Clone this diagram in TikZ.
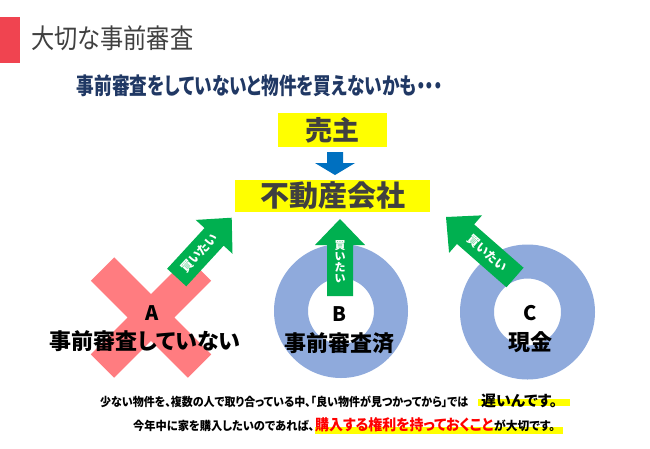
\documentclass[tikz,border=0pt]{standalone}
\usepackage{fontspec}
\newfontfamily\jp{Noto Sans CJK JP}[RawFeature=+palt]
\usetikzlibrary{calc}
\definecolor{barred}{RGB}{240,68,80}
\definecolor{titlegray}{RGB}{64,64,64}
\definecolor{navy}{RGB}{32,56,100}
\definecolor{hiyellow}{RGB}{255,255,0}
\definecolor{msblue}{RGB}{0,112,192}
\definecolor{msgreen}{RGB}{0,176,80}
\definecolor{xred}{RGB}{255,124,128}
\definecolor{ringblue}{RGB}{143,170,220}
\definecolor{hired}{RGB}{255,0,0}
\newcommand\fs[1]{\fontsize{#1}{#1}\selectfont}
\newcommand\fitto[2]{\resizebox{#1}{\height}{#2}}
% block arrow from tail #1 to tip #2
\newcommand\garrow[2]{%
  \coordinate (gb) at ($(#2)!26pt!(#1)$);
  \fill[garrowfill] ($(#1)!13pt!90:(#2)$) -- ($(gb)!13pt!-90:(#1)$) -- ($(gb)!25pt!-90:(#1)$) -- (#2)
     -- ($(gb)!25pt!90:(#1)$) -- ($(gb)!13pt!90:(#1)$) -- ($(#1)!13pt!-90:(#2)$) -- cycle;}
\begin{document}
\begin{tikzpicture}[x=1pt,y=-1pt,
  txt/.style={inner sep=0pt, font=\jp},
  ybox/.style={fill=hiyellow, inner sep=0pt, text=titlegray},
  lbl/.style={inner sep=0pt, text=black},
  arrowtext/.style={inner sep=0pt, font=\jp\bfseries\fs{12}, text=white},
  garrowfill/.style={fill=msgreen},
  ring/.style={fill=ringblue, even odd rule}
]
\useasboundingbox (0,0) rectangle (650,448);
\fill[white] (0,0) rectangle (650,448);
% header
\fill[barred] (0,17) rectangle (20,63);
\node[txt, anchor=west, text=titlegray, font=\jp\fs{27}] (title) at (31,38) {\fitto{162pt}{大切な事前審査}};
\node[txt, text=navy, font=\jp\bfseries\fs{23}] (sub) at (260,86) {\fitto{366pt}{事前審査をしていないと物件を買えないかも・・・}};
% seller and agent
\node[ybox, minimum width=109pt, minimum height=34pt, font=\jp\bfseries\fs{27}] (seller) at (332.5,130) {売主};
\node[ybox, minimum width=195pt, minimum height=32pt, font=\jp\bfseries\fs{29}] (agent) at (332.5,196) {不動産会社};
\fill[msblue] (327,152) -- (343,152) -- (343,163) -- (355,163) -- (335,175) -- (315,163) -- (327,163) -- cycle;
% A: red cross
\draw[xred, line width=33pt] (102.5,269) -- (199.5,366) (199.5,269) -- (102.5,366);
% B and C rings
\fill[ring] (341,311) circle[radius=67pt] (341,311) circle[radius=33pt];
\fill[ring] (527.5,312) circle[radius=67.5pt] (527.5,312) circle[radius=33.5pt];
% green arrows
\coordinate (aT) at (176.7,277.5); \coordinate (aP) at (231.7,217.7);
\garrow{aT}{aP}
\path (aT) -- (gb) node[arrowtext, pos=0.6, sloped] (atext) {買いたい};
\coordinate (bT) at (340,296); \coordinate (bP) at (340,219);
\garrow{bT}{bP}
\node[arrowtext, align=center, font=\jp\bfseries\fs{11}] (btext) at (340,262) {買\\い\\た\\い};
\coordinate (cT) at (515,277.5); \coordinate (cP) at (446,217);
\garrow{cT}{cP}
\path (cT) -- (gb) node[arrowtext, pos=0.56, sloped] (ctext) {買いたい};
% labels
\node[lbl, font=\jp\bfseries\fs{20}] (A) at (152,313.5) {A};
\node[lbl, font=\jp\bfseries\fs{22}] (Atext) at (145,341.5) {事前審査していない};
\node[lbl, font=\jp\bfseries\fs{20}] (B) at (339.5,314) {B};
\node[lbl, font=\jp\bfseries\fs{22}] (Btext) at (339,343.5) {事前審査済};
\node[lbl, font=\jp\bfseries\fs{20}] (C) at (530,313) {C};
\node[lbl, font=\jp\bfseries\fs{22}] (Ctext) at (530,342.5) {現金};
% bottom text
\fill[hiyellow] (478,399) rectangle (570,405.5);
\fill[hiyellow] (315,427) rectangle (563,434);
\node[txt, anchor=base west, font=\jp\bfseries\fs{12}] (l1a) at (100,406.5) {\fitto{368pt}{少ない物件を、複数の人で取り合っている中、「良い物件が見つかってから」では}};
\node[txt, anchor=base west, font=\jp\bfseries\fs{15}] (l1b) at (481,406.5) {\fitto{76pt}{遅いんです。}};
\node[txt, anchor=base west, font=\jp\bfseries\fs{12}] (l2a) at (133,430) {\fitto{181pt}{今年中に家を購入したいのであれば、}};
\node[txt, anchor=base west, font=\jp\bfseries\fs{15}, text=hired] (l2b) at (315,430) {\fitto{178pt}{購入する権利を持っておくこと}};
\node[txt, anchor=base west, font=\jp\bfseries\fs{12}] (l2c) at (494,430) {\fitto{61pt}{が大切です。}};
\end{tikzpicture}
\end{document}
